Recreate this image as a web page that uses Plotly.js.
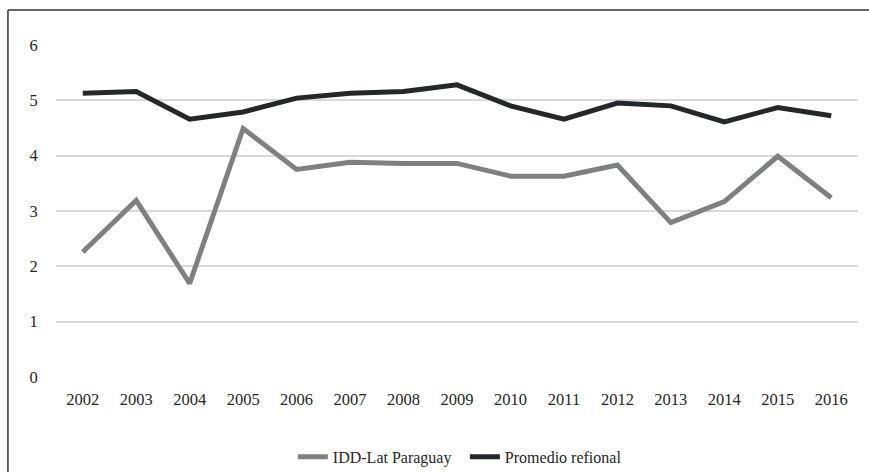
<!DOCTYPE html>
<html>
<head>
<meta charset="utf-8">
<script src="https://cdn.plot.ly/plotly-3.0.1.min.js"></script>
<style>
  html, body { margin: 0; padding: 0; background: #fff; }
  #chart { width: 869px; height: 472px; }
</style>
</head>
<body>
<div id="chart"></div>
<script>
const years = ["2002","2003","2004","2005","2006","2007","2008","2009","2010","2011","2012","2013","2014","2015","2016"];
const iddParaguay = [2.26, 3.19, 1.69, 4.49, 3.75, 3.88, 3.86, 3.86, 3.63, 3.63, 3.83, 2.79, 3.17, 3.99, 3.24];
const promedioRegional = [5.13, 5.16, 4.66, 4.79, 5.04, 5.13, 5.16, 5.28, 4.90, 4.66, 4.95, 4.90, 4.61, 4.87, 4.72];
const seriesNames = ["IDD-Lat Paraguay", "Promedio refional"];
const yTicks = [0, 1, 2, 3, 4, 5, 6];

const font = "Liberation Serif";

const traces = [
  {
    x: years, y: iddParaguay, name: seriesNames[0], type: "scatter", mode: "lines",
    line: { color: "#7f8181", width: 5 }
  },
  {
    x: years, y: promedioRegional, name: seriesNames[1], type: "scatter", mode: "lines",
    line: { color: "#25282a", width: 5 }
  }
];

const layout = {
  width: 869, height: 472,
  margin: { l: 56, r: 11, t: 45, b: 95, autoexpand: false },
  paper_bgcolor: "#fff", plot_bgcolor: "#fff",
  font: { family: font, size: 16, color: "#262626" },
  showlegend: true,
  legend: {
    orientation: "h", xref: "container", yref: "container",
    x: 0.337, xanchor: "left", y: 0.032, yanchor: "middle",
    entrywidth: 127,
    font: { family: font, size: 16, color: "#262626" }
  },
  xaxis: {
    type: "category", range: [-0.5, years.length - 0.5],
    showgrid: false, zeroline: false, showline: false,
    ticks: "outside", ticklen: 7, tickcolor: "rgba(0,0,0,0)",
    tickfont: { family: font, size: 16.5, color: "#262626" }
  },
  yaxis: {
    range: [0, 6], tickvals: yTicks,
    showgrid: true, gridcolor: "#d9d9d9", gridwidth: 2,
    zeroline: false, showline: false,
    ticks: "outside", ticklen: 14, tickcolor: "rgba(0,0,0,0)",
    tickfont: { family: font, size: 16.5, color: "#262626" }
  },
  shapes: [
    { type: "line", xref: "paper", yref: "paper", x0: -0.0599, x1: 1.02, y0: 1.1054, y1: 1.1054,
      line: { color: "#333", width: 1.5 } },
    { type: "line", xref: "paper", yref: "paper", x0: -0.0599, x1: -0.0599, y0: 1.1054, y1: -0.3,
      line: { color: "#333", width: 1.5 } }
  ]
};

Plotly.newPlot("chart", traces, layout, { displayModeBar: false, staticPlot: true });
</script>
</body>
</html>
